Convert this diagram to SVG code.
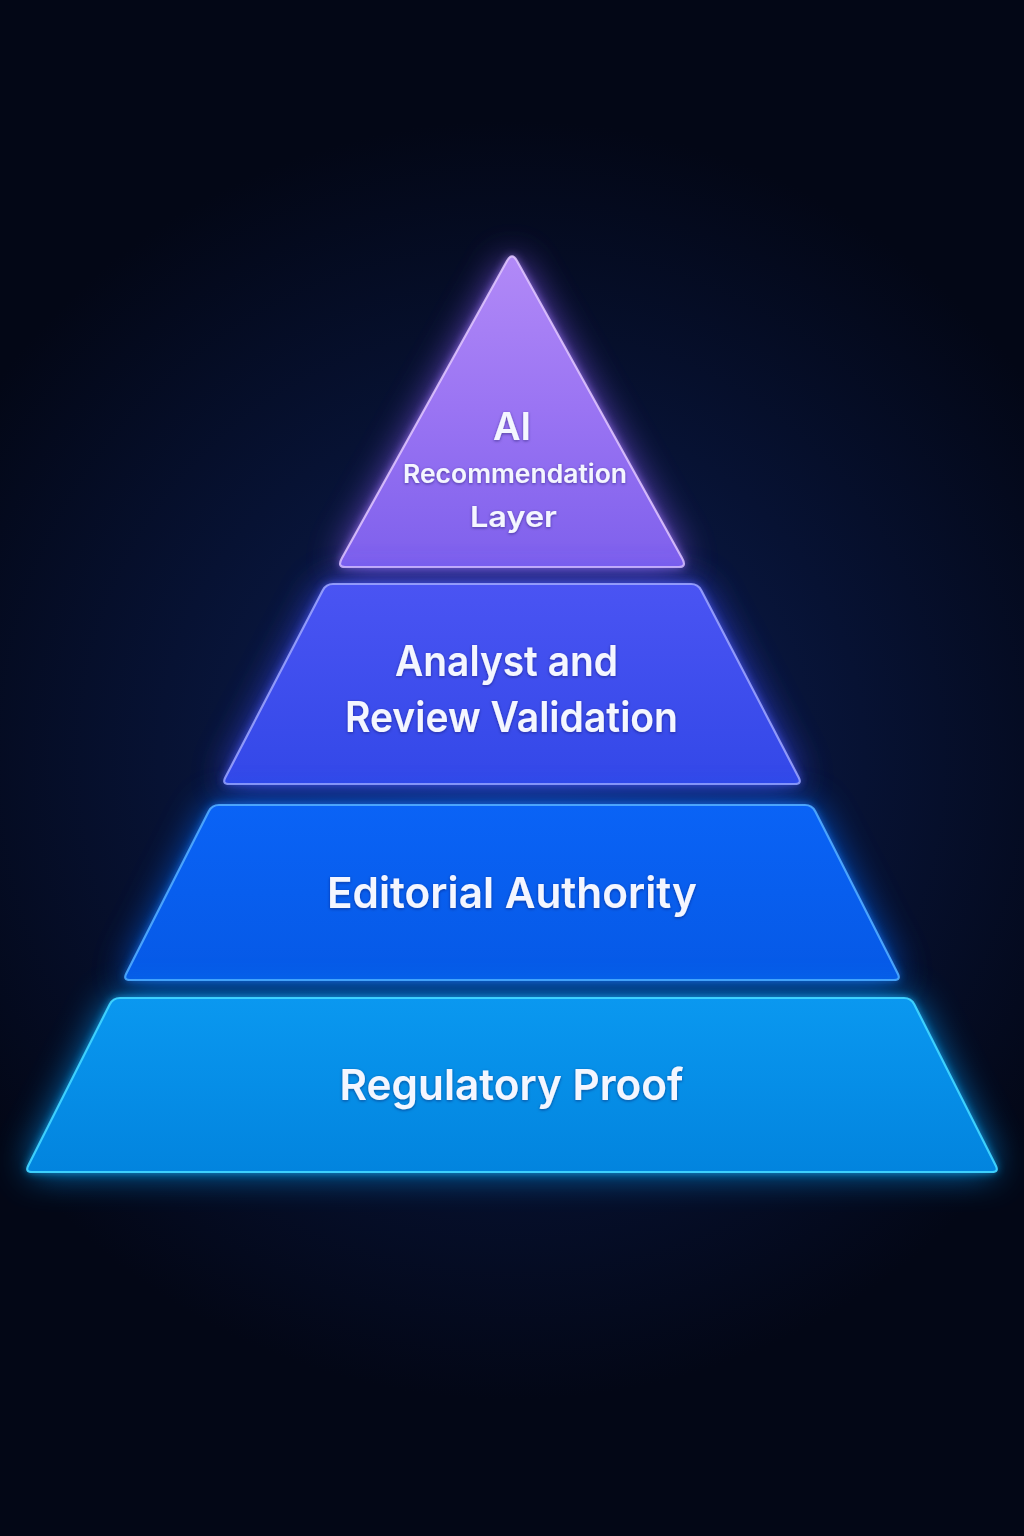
<svg xmlns="http://www.w3.org/2000/svg" width="1024" height="1536" viewBox="0 0 1024 1536">
  <defs>
    <radialGradient id="bgGlow" cx="512" cy="760" r="640" gradientUnits="userSpaceOnUse">
      <stop offset="0" stop-color="#0d2056"/>
      <stop offset="0.55" stop-color="#071233"/>
      <stop offset="1" stop-color="#030716"/>
    </radialGradient>
    <linearGradient id="gTop" x1="0" y1="252" x2="0" y2="567" gradientUnits="userSpaceOnUse">
      <stop offset="0" stop-color="#b28af7"/>
      <stop offset="0.5" stop-color="#9a74f3"/>
      <stop offset="1" stop-color="#7e60ec"/>
    </linearGradient>
    <linearGradient id="g2" x1="0" y1="584" x2="0" y2="784" gradientUnits="userSpaceOnUse">
      <stop offset="0" stop-color="#4a54f3"/>
      <stop offset="1" stop-color="#3348e8"/>
    </linearGradient>
    <linearGradient id="g3" x1="0" y1="805" x2="0" y2="980" gradientUnits="userSpaceOnUse">
      <stop offset="0" stop-color="#0a63f6"/>
      <stop offset="1" stop-color="#0659e6"/>
    </linearGradient>
    <linearGradient id="g4" x1="0" y1="998" x2="0" y2="1172" gradientUnits="userSpaceOnUse">
      <stop offset="0" stop-color="#0a98f0"/>
      <stop offset="1" stop-color="#0284de"/>
    </linearGradient>
    <filter id="glow" x="-30%" y="-40%" width="160%" height="180%">
      <feGaussianBlur stdDeviation="18"/>
    </filter>
    <filter id="glowTight" x="-20%" y="-20%" width="140%" height="140%">
      <feGaussianBlur stdDeviation="5"/>
    </filter>
    <filter id="txtShadow" x="-10%" y="-30%" width="120%" height="160%">
      <feDropShadow dx="0" dy="1" stdDeviation="1.5" flood-color="#101850" flood-opacity="0.5"/>
    </filter>
  </defs>
  <style>
    .label { font-family: Inter, "Liberation Sans", Arial, sans-serif; font-weight: 600; fill: #f4f6ff; text-anchor: middle; }
    .edge { fill: none; stroke-width: 2.2; }
  </style>

  <rect x="0" y="0" width="1024" height="1536" fill="url(#bgGlow)"/>

  <g id="tier-ai">
    <path d="M507.1,260.7 Q512,252 516.9,260.7 L682.1,558.3 Q687,567 679,567 L345,567 Q337,567 341.9,558.3 Z" fill="#8e5cff" opacity="0.75" filter="url(#glow)"/>
    <path d="M507.1,260.7 Q512,252 516.9,260.7 L682.1,558.3 Q687,567 679,567 L345,567 Q337,567 341.9,558.3 Z" fill="#a980ff" opacity="0.8" filter="url(#glowTight)"/>
    <path d="M507.1,260.7 Q512,252 516.9,260.7 L682.1,558.3 Q687,567 679,567 L345,567 Q337,567 341.9,558.3 Z" fill="url(#gTop)"/>
    <path class="edge" d="M507.1,260.7 Q512,252 516.9,260.7 L682.1,558.3 Q687,567 679,567 L345,567 Q337,567 341.9,558.3 Z" stroke="#e2c8ff" stroke-opacity="0.85"/>
    <text class="label" x="512" y="440" font-size="38" textLength="38" lengthAdjust="spacingAndGlyphs" filter="url(#txtShadow)">AI</text>
    <text class="label" x="515" y="483" font-size="26" textLength="224" lengthAdjust="spacingAndGlyphs" filter="url(#txtShadow)">Recommendation</text>
    <text class="label" x="513.5" y="527" font-size="29" textLength="87" lengthAdjust="spacingAndGlyphs" filter="url(#txtShadow)">Layer</text>
  </g>

  <g id="tier-analyst">
    <path d="M333,584 L691,584 Q698,584 701.2,590.2 L798.8,777.8 Q802,784 795,784 L229,784 Q222,784 225.2,777.8 L322.8,590.2 Q326,584 333,584 Z" fill="#3c4cff" opacity="0.75" filter="url(#glow)"/>
    <path d="M333,584 L691,584 Q698,584 701.2,590.2 L798.8,777.8 Q802,784 795,784 L229,784 Q222,784 225.2,777.8 L322.8,590.2 Q326,584 333,584 Z" fill="#5260ff" opacity="0.8" filter="url(#glowTight)"/>
    <path d="M333,584 L691,584 Q698,584 701.2,590.2 L798.8,777.8 Q802,784 795,784 L229,784 Q222,784 225.2,777.8 L322.8,590.2 Q326,584 333,584 Z" fill="url(#g2)"/>
    <path class="edge" d="M333,584 L691,584 Q698,584 701.2,590.2 L798.8,777.8 Q802,784 795,784 L229,784 Q222,784 225.2,777.8 L322.8,590.2 Q326,584 333,584 Z" stroke="#a0a8ff" stroke-opacity="0.85"/>
    <text class="label" x="506.5" y="676" font-size="42" textLength="223" lengthAdjust="spacingAndGlyphs" filter="url(#txtShadow)">Analyst and</text>
    <text class="label" x="511.5" y="732" font-size="42" textLength="333" lengthAdjust="spacingAndGlyphs" filter="url(#txtShadow)">Review Validation</text>
  </g>

  <g id="tier-editorial">
    <path d="M219,805 L805,805 Q812,805 815.2,811.2 L897.8,973.8 Q901,980 894,980 L130,980 Q123,980 126.2,973.8 L208.8,811.2 Q212,805 219,805 Z" fill="#0a66ff" opacity="0.75" filter="url(#glow)"/>
    <path d="M219,805 L805,805 Q812,805 815.2,811.2 L897.8,973.8 Q901,980 894,980 L130,980 Q123,980 126.2,973.8 L208.8,811.2 Q212,805 219,805 Z" fill="#1a7cff" opacity="0.8" filter="url(#glowTight)"/>
    <path d="M219,805 L805,805 Q812,805 815.2,811.2 L897.8,973.8 Q901,980 894,980 L130,980 Q123,980 126.2,973.8 L208.8,811.2 Q212,805 219,805 Z" fill="url(#g3)"/>
    <path class="edge" d="M219,805 L805,805 Q812,805 815.2,811.2 L897.8,973.8 Q901,980 894,980 L130,980 Q123,980 126.2,973.8 L208.8,811.2 Q212,805 219,805 Z" stroke="#52acff" stroke-opacity="0.9"/>
    <text class="label" x="512" y="908" font-size="43" textLength="370" lengthAdjust="spacingAndGlyphs" filter="url(#txtShadow)">Editorial Authority</text>
  </g>

  <g id="tier-regulatory">
    <path d="M120,998 L904,998 Q911,998 914.2,1004.2 L995.8,1165.8 Q999,1172 992,1172 L32,1172 Q25,1172 28.2,1165.8 L109.8,1004.2 Q113,998 120,998 Z" fill="#0a9cff" opacity="0.75" filter="url(#glow)"/>
    <path d="M120,998 L904,998 Q911,998 914.2,1004.2 L995.8,1165.8 Q999,1172 992,1172 L32,1172 Q25,1172 28.2,1165.8 L109.8,1004.2 Q113,998 120,998 Z" fill="#1ab4ff" opacity="0.8" filter="url(#glowTight)"/>
    <path d="M120,998 L904,998 Q911,998 914.2,1004.2 L995.8,1165.8 Q999,1172 992,1172 L32,1172 Q25,1172 28.2,1165.8 L109.8,1004.2 Q113,998 120,998 Z" fill="url(#g4)"/>
    <path class="edge" d="M120,998 L904,998 Q911,998 914.2,1004.2 L995.8,1165.8 Q999,1172 992,1172 L32,1172 Q25,1172 28.2,1165.8 L109.8,1004.2 Q113,998 120,998 Z" stroke="#40d4ff" stroke-opacity="0.95"/>
    <text class="label" x="511.5" y="1100" font-size="43" textLength="344" lengthAdjust="spacingAndGlyphs" filter="url(#txtShadow)">Regulatory Proof</text>
  </g>

  <g id="connectors"/>
</svg>
